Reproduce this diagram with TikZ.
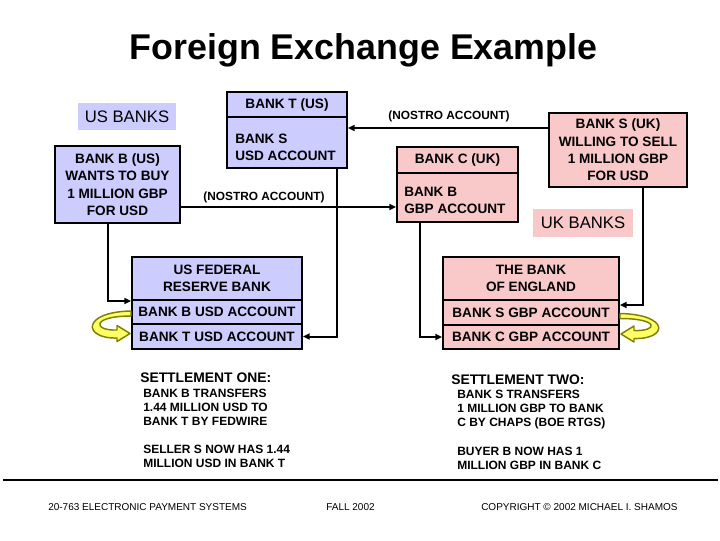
\documentclass[tikz,border=0pt]{standalone}
\usepackage{fontspec}
\setmainfont{Liberation Sans}
\usetikzlibrary{arrows.meta}
\definecolor{usfill}{HTML}{CCCCFF}
\definecolor{ukfill}{HTML}{F9C9C9}
\definecolor{olivedge}{HTML}{808000}
\definecolor{yelfill}{HTML}{FFFF66}
\newcommand\bxfont{\fontsize{10.2}{13}\selectfont\bfseries}
\tikzset{
  bank/.style={draw=black, line width=1.5pt, inner sep=0pt, align=center, font=\bxfont},
  usbox/.style={bank, fill=usfill},
  ukbox/.style={bank, fill=ukfill},
  bodytxt/.style={anchor=west, inner sep=0pt, align=left, font=\bxfont},
  grouplbl/.style={inner sep=0pt, font=\fontsize{12.5}{15}\selectfont},
  conn/.style={draw=black, line width=1.5pt, -{Triangle[length=5pt,width=4.5pt]}},
  nostro/.style={inner sep=0pt, font=\fontsize{8.9}{10}\selectfont\bfseries},
  sethead/.style={anchor=base west, inner sep=0pt, font=\fontsize{10.4}{12}\selectfont\bfseries},
  setbody/.style={anchor=north west, inner sep=0pt, align=left, font=\fontsize{9}{10.6}\selectfont\bfseries},
  foot/.style={anchor=base, inner sep=0pt, font=\fontsize{7.5}{9}\selectfont},
  swirl/.style={draw=olivedge, fill=yelfill, line width=1.1pt, line join=round}
}
\begin{document}
\begin{tikzpicture}[x=0.75pt,y=-0.75pt]
\useasboundingbox (0,0) rectangle (720,540);

% title
\node[anchor=base, inner sep=0pt, font=\fontsize{26.85}{32}\selectfont\bfseries] (title) at (363.5,59) {Foreign Exchange Example};

% group labels
\node[grouplbl, fill=usfill, minimum width=73.5pt, minimum height=20.25pt] (uslbl) at (127,116.5) {US BANKS};
\node[grouplbl, fill=ukfill, minimum width=75pt, minimum height=21pt] (uklbl) at (583,223) {UK BANKS};

% US banks
\node[usbox, minimum width=93.75pt, minimum height=57.75pt] (bankB) at (117.5,184.5) {BANK B (US)\\WANTS TO BUY\\1 MILLION GBP\\FOR USD};
\node[usbox, minimum width=90pt, minimum height=18.75pt] (bankTtitle) at (287,104.5) {BANK T (US)};
\node[usbox, minimum width=90pt, minimum height=38.25pt] (bankTbody) at (287,142.5) {};
\node[bodytxt] (bankTtxt) at (235,147) {BANK S\\USD ACCOUNT};

% UK banks
\node[ukbox, minimum width=90.75pt, minimum height=19.5pt] (bankCtitle) at (457.5,160) {BANK C (UK)};
\node[ukbox, minimum width=90.75pt, minimum height=36.75pt] (bankCbody) at (457.5,197.5) {};
\node[bodytxt] (bankCtxt) at (404,200.5) {BANK B\\GBP ACCOUNT};
\node[ukbox, minimum width=103.5pt, minimum height=55.5pt] (bankS) at (618,150) {BANK S (UK)\\WILLING TO SELL\\1 MILLION GBP\\FOR USD};

% central banks
\node[usbox, minimum width=127.5pt, minimum height=32.25pt] (fedTitle) at (217,278.5) {US FEDERAL\\RESERVE BANK};
\node[usbox, minimum width=127.5pt, minimum height=18pt] (fedB) at (217,312) {BANK B USD ACCOUNT};
\node[usbox, minimum width=127.5pt, minimum height=18.75pt] (fedT) at (217,336.5) {BANK T USD ACCOUNT};

\node[ukbox, minimum width=132pt, minimum height=32.25pt] (boeTitle) at (531,278.5) {THE BANK\\OF ENGLAND};
\node[ukbox, minimum width=132pt, minimum height=18.75pt] (boeS) at (531,312.5) {BANK S GBP ACCOUNT};
\node[ukbox, minimum width=132pt, minimum height=18pt] (boeC) at (531,337) {BANK C GBP ACCOUNT};

% connectors
\draw[conn] ([xshift=-7.125pt]bankB.south) |- ([yshift=-1.5pt]fedB.north west);
\draw[conn] ([xshift=37.5pt]bankTbody.south) |- (fedT.east);
\draw[conn] ([xshift=-28.125pt]bankCbody.south) |- (boeC.west);
\draw[conn] ([xshift=18.75pt]bankS.south) |- ([yshift=-4.5pt]boeS.north east);
\draw[conn] ([yshift=-16.875pt]bankB.east) -- ([yshift=-16.875pt]bankB.east -| bankCbody.west);
\draw[conn] ([yshift=16.5pt]bankS.west) -- ([yshift=16.5pt]bankS.west -| bankTbody.east);

\node[nostro] (nostroA) at (264,197) {(NOSTRO ACCOUNT)};
\node[nostro] (nostroB) at (449,116) {(NOSTRO ACCOUNT)};

% transfer swirls
\begin{scope}[shift={(fedB.west)}]
\filldraw[swirl] (0,-1) .. controls (-50,0) and (-48,27) .. (-14,26) -- (-14,29.5) -- (-1,21.5) -- (-14,13.5) -- (-14,18) .. controls (-38,19) and (-40,4) .. (0,4) -- cycle;
\end{scope}
\begin{scope}[shift={(boeS.east)}]
\filldraw[swirl] (0,1) .. controls (50,2) and (48,27) .. (14,26) -- (14,29.5) -- (1,21.5) -- (14,13.5) -- (14,18) .. controls (38,19) and (40,6) .. (0,6) -- cycle;
\end{scope}

% settlements
\node[sethead] (s1head) at (140,382) {SETTLEMENT ONE:};
\node[setbody] (s1a) at (143,389) {BANK B TRANSFERS\\1.44 MILLION USD TO\\BANK T BY FEDWIRE};
\node[setbody] (s1b) at (143,445) {SELLER S NOW HAS 1.44\\MILLION USD IN BANK T};
\node[sethead] (s2head) at (451,384) {SETTLEMENT TWO:};
\node[setbody] (s2a) at (457,390) {BANK S TRANSFERS\\1 MILLION GBP TO BANK\\C BY CHAPS (BOE RTGS)};
\node[setbody] (s2b) at (457,447) {BUYER B NOW HAS 1\\MILLION GBP IN BANK C};

% rule and footer
\draw[line width=1.9pt] (3,480) -- (718,480);
\node[foot, anchor=base west] (f1) at (48,510.5) {20-763 ELECTRONIC PAYMENT SYSTEMS};
\node[foot] (f2) at (350.5,510.5) {FALL 2002};
\node[foot, anchor=base west] (f3) at (481,510.5) {COPYRIGHT © 2002 MICHAEL I. SHAMOS};
\end{tikzpicture}
\end{document}
